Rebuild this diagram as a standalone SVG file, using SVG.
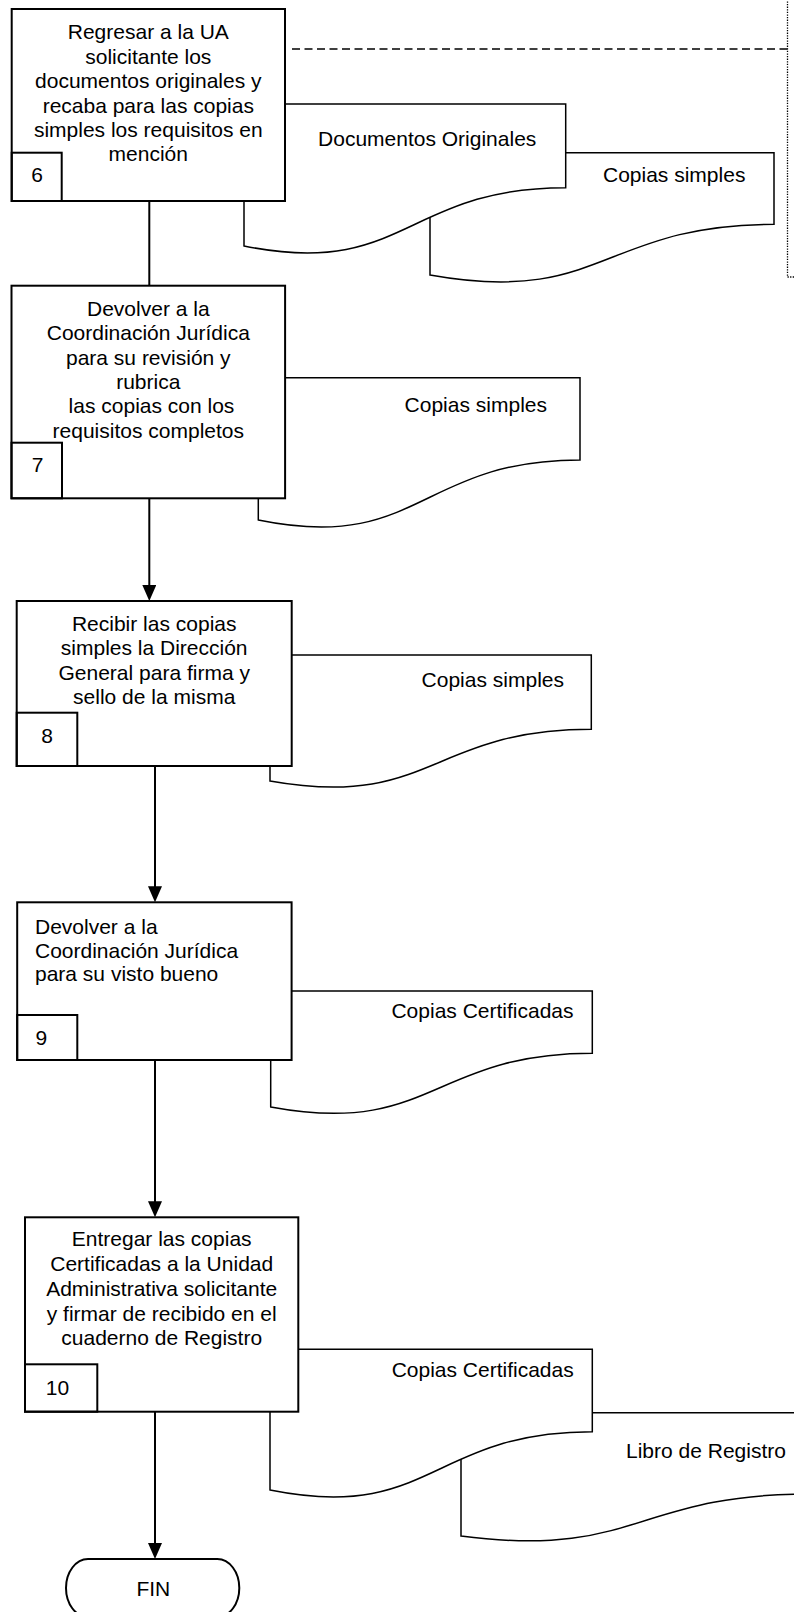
<svg xmlns="http://www.w3.org/2000/svg" width="794" height="1612" viewBox="0 0 794 1612">
  <defs>
    <style>
      .box { fill: #ffffff; stroke: #000000; stroke-width: 2; }
      .num { fill: none; stroke: #000000; stroke-width: 2; }
      .doc { fill: #ffffff; stroke: #000000; stroke-width: 1.5; stroke-linejoin: miter; }
      .flow { fill: none; stroke: #000000; stroke-width: 2; }
      .dash { fill: none; stroke: #000000; stroke-width: 1.3; stroke-dasharray: 8 4.5; }
      .dots { fill: none; stroke: #000000; stroke-width: 1.3; stroke-dasharray: 1.3 1.3; }
      text { font-family: "Liberation Sans", Arial, sans-serif; font-size: 21px; fill: #000000; }
      .c { text-anchor: middle; }
    </style>
    <marker id="arrow" viewBox="0 0 16 14" refX="12" refY="7" markerWidth="16" markerHeight="14" markerUnits="userSpaceOnUse" orient="auto">
      <path d="M0,0 L16,7 L0,14 Z" fill="#000000"/>
    </marker>
  </defs>

  <!-- frame lines at the top right -->
  <g id="frame">
    <path class="dash" d="M292,49 H787.5"/>
    <path class="dots" d="M794,277 H787.5 V0"/>
  </g>

  <!-- connectors -->
  <g id="connectors">
    <path class="flow" d="M149.3,201 V285.7"/>
    <path class="flow" d="M149.3,498.3 V597" marker-end="url(#arrow)"/>
    <path class="flow" d="M155,766 V898.3" marker-end="url(#arrow)"/>
    <path class="flow" d="M155,1060 V1213.3" marker-end="url(#arrow)"/>
    <path class="flow" d="M155,1411.7 V1555" marker-end="url(#arrow)"/>
  </g>

  <!-- step 6 -->
  <g id="doc6b">
    <path class="doc" d="M430,152.7 H774 V224.3 C602,224.3 602,306 430,275 Z"/>
    <text x="674.2" y="181.7" class="c">Copias simples</text>
  </g>
  <g id="doc6a">
    <path class="doc" d="M244,104 H565.7 V187.7 C404.9,187.7 404.9,278.4 244,246 Z"/>
    <text x="427.2" y="146" class="c">Documentos Originales</text>
  </g>
  <g id="step6">
    <rect class="box" x="11.7" y="9" width="273.3" height="192"/>
    <rect class="num" x="11.7" y="152.7" width="50" height="48.3"/>
    <text class="c" x="148.3" y="39.3">Regresar a la UA<tspan x="148.3" dy="24.4">solicitante los</tspan><tspan x="148.3" dy="24.4">documentos originales y</tspan><tspan x="148.3" dy="24.4">recaba para las copias</tspan><tspan x="148.3" dy="24.4">simples los requisitos en</tspan><tspan x="148.3" dy="24.4">mención</tspan></text>
    <text class="c" x="37.2" y="182.3">6</text>
  </g>

  <!-- step 7 -->
  <g id="doc7">
    <path class="doc" d="M258.3,377.7 H580 V460 C419.2,460 419.2,553 258.3,520 Z"/>
    <text x="475.8" y="411.7" class="c">Copias simples</text>
  </g>
  <g id="step7">
    <rect class="box" x="11.5" y="285.7" width="273.6" height="212.6"/>
    <rect class="num" x="11.5" y="442.7" width="50.5" height="55.6"/>
    <text class="c" x="148.3" y="315.7">Devolver a la<tspan x="148.3" dy="24.4">Coordinación Jurídica</tspan><tspan x="148.3" dy="24.4">para su revisión y</tspan><tspan x="148.3" dy="24.4">rubrica</tspan><tspan x="151.5" dy="24.4">las copias con los</tspan><tspan x="148.3" dy="24.4">requisitos completos</tspan></text>
    <text class="c" x="37.7" y="471.7">7</text>
  </g>

  <!-- step 8 -->
  <g id="doc8">
    <path class="doc" d="M270,655 H591.3 V729.3 C430.7,729.3 430.7,809.7 270,781 Z"/>
    <text x="492.8" y="687" class="c">Copias simples</text>
  </g>
  <g id="step8">
    <rect class="box" x="16.7" y="601" width="275" height="165"/>
    <rect class="num" x="16.7" y="712.7" width="60.6" height="53.3"/>
    <text class="c" x="154.2" y="630.7">Recibir las copias<tspan x="154.2" dy="24.4">simples la Dirección</tspan><tspan x="154.2" dy="24.4">General para firma y</tspan><tspan x="154.2" dy="24.4">sello de la misma</tspan></text>
    <text class="c" x="47.2" y="742.7">8</text>
  </g>

  <!-- step 9 -->
  <g id="doc9">
    <path class="doc" d="M270.7,991 H592.3 V1053.3 C431.5,1053.3 431.5,1136.8 270.7,1107 Z"/>
    <text x="482.5" y="1018.3" class="c">Copias Certificadas</text>
  </g>
  <g id="step9">
    <rect class="box" x="17.2" y="902.3" width="274.4" height="157.7"/>
    <rect class="num" x="17.2" y="1015" width="60.1" height="45"/>
    <text x="35" y="934">Devolver a la<tspan x="35" dy="23.7">Coordinación Jurídica</tspan><tspan x="35" dy="23.7">para su visto bueno</tspan></text>
    <text x="35.5" y="1045">9</text>
  </g>

  <!-- step 10 -->
  <g id="doc11">
    <path class="doc" d="M461,1412.7 H810 V1494 C635.5,1494 635.5,1559 461,1536 Z"/>
    <text x="626" y="1458.3">Libro de Registro</text>
  </g>
  <g id="doc10">
    <path class="doc" d="M270,1349.3 H592.3 V1431.7 C431.2,1431.7 431.2,1522.4 270,1490 Z"/>
    <text x="482.7" y="1376.7" class="c">Copias Certificadas</text>
  </g>
  <g id="step10">
    <rect class="box" x="25" y="1217.3" width="273.3" height="194.4"/>
    <rect class="num" x="25" y="1364.3" width="72.3" height="47.4"/>
    <text class="c" x="161.7" y="1245.8">Entregar las copias<tspan x="161.7" dy="24.9">Certificadas a la Unidad</tspan><tspan x="161.7" dy="24.9">Administrativa solicitante</tspan><tspan x="161.7" dy="24.9">y firmar de recibido en el</tspan><tspan x="161.7" dy="24.9">cuaderno de Registro</tspan></text>
    <text class="c" x="57.5" y="1395">10</text>
  </g>

  <!-- end terminator -->
  <g id="fin">
    <rect class="box" x="66" y="1559" width="173.3" height="58" rx="22" ry="29"/>
    <text class="c" x="153.3" y="1596">FIN</text>
  </g>
</svg>
